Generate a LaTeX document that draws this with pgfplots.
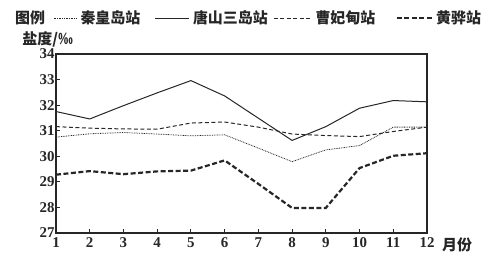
\documentclass[border=0pt]{standalone}
\usepackage{fontspec}
\setmainfont{Liberation Serif}
\newfontfamily\cjk{Noto Sans CJK SC}
\usepackage{pgfplots}
\pgfplotsset{compat=1.18}
\definecolor{ink}{HTML}{262626}
\pgfplotsset{
  legA/.style={legend image code/.code={\draw[##1] (0bp,0bp) -- (23bp,0bp);}},
  legB/.style={legend image code/.code={\draw[##1] (0bp,0bp) -- (34bp,0bp);}},
  legC/.style={legend image code/.code={\draw[##1] (0bp,0bp) -- (38bp,0bp);}},
  legD/.style={legend image code/.code={\draw[##1] (0bp,0bp) -- (35bp,0bp);}},
}
\begin{document}
\begin{tikzpicture}
\path[use as bounding box] (-56bp,-35bp) rectangle (448bp,233bp);
\begin{axis}[
  scale only axis, width=371bp, height=179bp,
  xmin=1, xmax=12, ymin=27, ymax=34,
  xtick={1,...,12}, ytick={27,...,34},
  tick align=inside, tick pos=left,
  major tick length=4bp,
  axis line style={ink, line width=1.1bp},
  tick style={ink, line width=1bp},
  /pgf/number format/assume math mode=true,
  ticklabel style={font=\fontsize{15}{16}\selectfont\bfseries, text=ink},
  xticklabel style={yshift=-1.5bp},
  yticklabel style={xshift=2bp},
  ylabel={\cjk\bfseries 盐度/‰},
  ylabel style={at={(axis description cs:-0.091,1.084)}, rotate=-90, anchor=west, font=\fontsize{15}{16}\selectfont, text=ink, inner sep=0pt},
  xlabel={\cjk\bfseries 月份},
  xlabel style={at={(axis description cs:1,0)}, anchor=west, xshift=15bp, yshift=-11.5bp, font=\fontsize{15}{16}\selectfont, text=ink, inner sep=0pt},
  legend columns=4,
  legend style={draw=none, fill=none, at={(axis description cs:-0.008,1.201)}, anchor=west, font=\cjk\bfseries\fontsize{15}{16}\selectfont, text=ink, inner sep=0pt,
    nodes={inner sep=0pt},
    /tikz/every odd column/.append style={column sep=3.5bp},
    /tikz/every even column/.append style={column sep=0bp}},
  clip=false,
]
\addplot[ink, line width=0.8bp, dash pattern=on 0.8bp off 0.9bp, legA] coordinates {(1,30.75) (2,30.88) (3,30.93) (4,30.87) (5,30.80) (6,30.84) (7,30.32) (8,29.79) (9,30.25) (10,30.42) (11,31.14) (12,31.14)};
\addlegendentry{\makebox[74bp][l]{秦皇岛站}}
\addplot[ink, line width=1bp, legB] coordinates {(1,31.75) (2,31.46) (3,31.98) (4,32.48) (5,32.96) (6,32.36) (7,31.49) (8,30.62) (9,31.16) (10,31.88) (11,32.18) (12,32.13)};
\addlegendentry{\makebox[80bp][l]{唐山三岛站}}
\addplot[ink, line width=1bp, dash pattern=on 4bp off 2.5bp, legC] coordinates {(1,31.16) (2,31.10) (3,31.07) (4,31.06) (5,31.30) (6,31.34) (7,31.14) (8,30.87) (9,30.81) (10,30.77) (11,30.97) (12,31.14)};
\addlegendentry{\makebox[80bp][l]{曹妃甸站}}
\addplot[ink, line width=2.2bp, dash pattern=on 5bp off 2.5bp, legD] coordinates {(1,29.28) (2,29.42) (3,29.30) (4,29.41) (5,29.44) (6,29.84) (7,28.92) (8,27.98) (9,27.98) (10,29.54) (11,30.02) (12,30.12)};
\addlegendentry{黄骅站}
\end{axis}
\node[anchor=west, font=\cjk\bfseries\fontsize{15}{16}\selectfont, text=ink, inner sep=0pt] at (-41bp,215bp) {图例};
\end{tikzpicture}
\end{document}
